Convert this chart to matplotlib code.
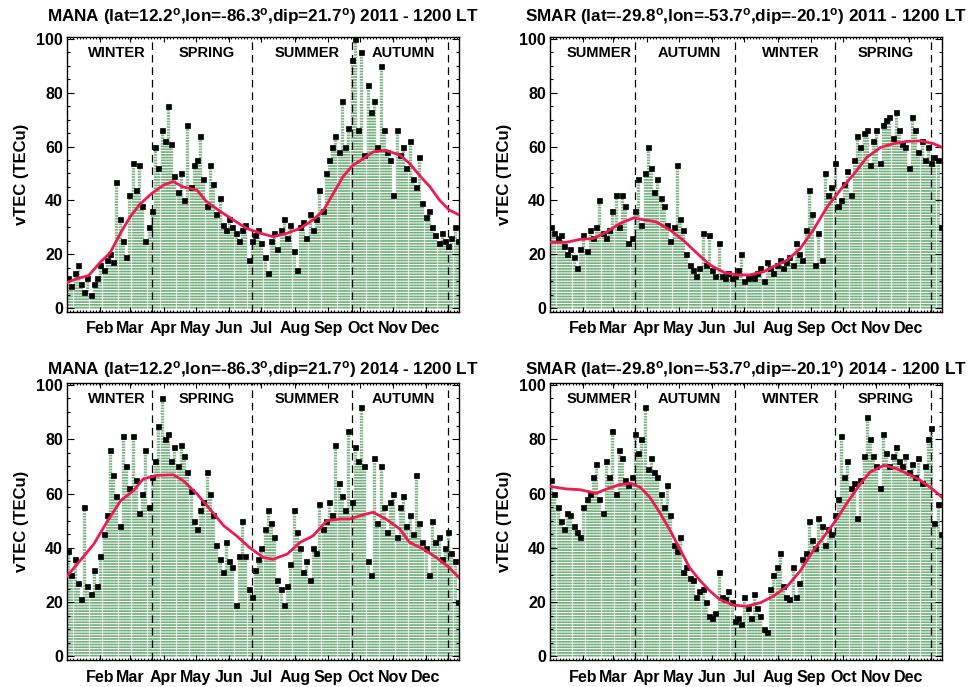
import numpy as np
import matplotlib
matplotlib.use('Agg')
import matplotlib.pyplot as plt
from matplotlib.ticker import MultipleLocator, FixedLocator

plt.rcParams['font.family'] = ['Liberation Sans', 'DejaVu Sans']
plt.rcParams['font.weight'] = 'bold'
plt.rcParams['mathtext.fontset'] = 'custom'
plt.rcParams['mathtext.rm'] = 'Liberation Sans:bold'
plt.rcParams['mathtext.bf'] = 'Liberation Sans:bold'
plt.rcParams['mathtext.it'] = 'Liberation Sans:bold'
plt.rcParams['lines.scale_dashes'] = False

# ---------------- data ----------------
month_labels = ['Feb', 'Mar', 'Apr', 'May', 'Jun', 'Jul', 'Aug', 'Sep', 'Oct', 'Nov', 'Dec']
month_start_days = [31, 59, 90, 120, 151, 181, 212, 243, 273, 304, 334]
season_boundaries = [79, 172, 265, 355]
nh_seasons = ['WINTER', 'SPRING', 'SUMMER', 'AUTUMN']
sh_seasons = ['SUMMER', 'AUTUMN', 'WINTER', 'SPRING']
season_label_days = [46, 130, 224, 313]

titles = [
    'MANA (lat=12.2$^{o}$,lon=-86.3$^{o}$,dip=21.7$^{o}$) 2011 - 1200 LT',
    'SMAR (lat=-29.8$^{o}$,lon=-53.7$^{o}$,dip=-20.1$^{o}$) 2011 - 1200 LT',
    'MANA (lat=12.2$^{o}$,lon=-86.3$^{o}$,dip=21.7$^{o}$) 2014 - 1200 LT',
    'SMAR (lat=-29.8$^{o}$,lon=-53.7$^{o}$,dip=-20.1$^{o}$) 2014 - 1200 LT',
]

# daily vTEC sampled every 3rd day (day 1, 4, 7, ...)
mana2011_vals = [11, 8, 13, 16, 9, 6, 11, 5, 9, 11,
                 16, 14, 18, 20, 17, 47, 33, 25, 19, 42,
                 54, 44, 53, 38, 25, 30, 36, 60, 52, 66,
                 62, 75, 61, 49, 43, 50, 40, 68, 45, 53,
                 55, 64, 48, 38, 53, 46, 35, 41, 31, 29,
                 33, 30, 28, 25, 29, 31, 18, 25, 27, 29,
                 24, 19, 13, 25, 28, 22, 29, 33, 26, 31,
                 21, 14, 30, 32, 26, 35, 29, 33, 44, 36,
                 50, 55, 60, 64, 58, 77, 60, 67, 92, 100,
                 66, 95, 57, 83, 73, 77, 60, 90, 66, 58,
                 55, 42, 66, 57, 60, 52, 62, 48, 45, 56,
                 39, 34, 36, 30, 27, 24, 28, 25, 23, 26,
                 30, 25]
smar2011_vals = [30, 28, 26, 27, 23, 20, 22, 19, 15, 22,
                 27, 21, 29, 26, 30, 40, 28, 26, 29, 36,
                 42, 30, 42, 38, 24, 26, 36, 48, 31, 50,
                 60, 52, 43, 48, 41, 38, 31, 25, 30, 53,
                 33, 29, 20, 16, 14, 12, 15, 28, 16, 27,
                 14, 12, 24, 12, 11, 13, 11, 12, 14, 20,
                 10, 11, 12, 11, 13, 15, 10, 17, 15, 13,
                 16, 18, 15, 17, 19, 16, 24, 20, 18, 29,
                 44, 35, 16, 28, 18, 50, 42, 45, 54, 38,
                 40, 46, 51, 42, 55, 64, 60, 65, 66, 53,
                 62, 66, 54, 68, 70, 71, 63, 73, 66, 61,
                 60, 52, 71, 66, 58, 62, 55, 60, 54, 56,
                 55, 30]
mana2014_vals = [39, 30, 36, 27, 21, 55, 26, 23, 32, 26,
                 37, 45, 52, 76, 67, 59, 48, 81, 70, 62,
                 81, 65, 53, 60, 76, 55, 66, 72, 85, 95,
                 80, 82, 72, 77, 70, 78, 74, 68, 61, 50,
                 47, 54, 57, 68, 60, 52, 41, 36, 31, 42,
                 35, 33, 19, 37, 50, 37, 25, 22, 32, 36,
                 40, 47, 54, 49, 44, 28, 25, 19, 26, 34,
                 54, 46, 40, 31, 35, 28, 40, 38, 56, 47,
                 50, 57, 52, 78, 64, 59, 54, 83, 57, 77,
                 72, 92, 70, 35, 30, 73, 49, 70, 55, 46,
                 57, 60, 44, 55, 59, 48, 52, 45, 67, 49,
                 42, 40, 30, 50, 42, 44, 36, 40, 46, 38,
                 35, 20]
smar2014_vals = [65, 60, 55, 50, 47, 53, 52, 48, 46, 44,
                 55, 58, 60, 66, 71, 58, 53, 72, 66, 83,
                 60, 76, 73, 65, 63, 66, 82, 75, 80, 92,
                 69, 73, 68, 66, 60, 55, 63, 52, 41, 39,
                 44, 31, 33, 29, 28, 22, 24, 25, 20, 15,
                 14, 16, 31, 22, 21, 24, 20, 13, 14, 12,
                 22, 18, 14, 23, 18, 15, 10, 9, 25, 30,
                 33, 38, 26, 22, 21, 33, 22, 27, 36, 38,
                 50, 43, 40, 51, 48, 41, 47, 45, 52, 58,
                 81, 66, 72, 62, 64, 51, 65, 74, 88, 80,
                 74, 70, 62, 82, 75, 70, 74, 77, 72, 70,
                 74, 68, 71, 66, 73, 64, 70, 80, 84, 49,
                 56, 45]

# smoothed (red) curves
mana2011_curve_days = [0, 10, 20, 31, 40, 50, 59, 68, 79, 90, 99, 108, 121, 130, 143, 155, 167, 180,
                       192, 205, 217, 229, 239, 248, 257, 266, 276, 285, 297, 310, 319, 328, 338, 347, 356, 365]
mana2011_curve_vals = [9.5, 11, 12, 17, 20.4, 28, 34, 38.6, 42.6, 45.7, 47, 45, 43.8, 39.5, 35.8, 32.7, 29.6, 27.8,
                       26.5, 27.8, 29.6, 32.7, 36.4, 42.6, 48.8, 53, 55.5, 58, 58.6, 56.8, 53.7, 49.4, 45, 40, 36.4, 34.6]
smar2011_curve_days = [0, 15, 28, 40, 53, 65, 78, 87, 99, 112, 124, 137, 149, 162, 174, 186, 199, 208,
                       221, 233, 245, 258, 270, 283, 295, 308, 320, 332, 345, 357, 365]
smar2011_curve_vals = [24.4, 24.4, 25.5, 25.8, 28.3, 31.4, 33.5, 32.8, 32, 28.9, 25.2, 20.3, 16, 13.2, 12.3, 12.3,
                       13.5, 15.4, 17.8, 22.1, 28.9, 37.5, 43.7, 49.8, 56, 59.7, 61.1, 61.9, 62.1, 61.1, 59.7]
mana2014_curve_days = [0, 12, 25, 37, 50, 62, 71, 84, 99, 108, 121, 133, 146, 158, 170, 183, 192, 205,
                       217, 229, 242, 254, 263, 276, 285, 297, 310, 319, 332, 344, 356, 365]
mana2014_curve_vals = [29.6, 35.2, 41.4, 49.4, 57.4, 61.1, 65.4, 66.7, 66.9, 64.8, 59.9, 54.3, 48.1, 44.4, 40.1,
                       36.4, 35.8, 37.7, 42, 44.4, 50, 50.6, 50.6, 52.2, 53.1, 50.6, 46.9, 42, 39.5, 36.4, 32.7, 29]
smar2014_curve_days = [0, 15, 28, 43, 53, 65, 75, 84, 93, 102, 112, 121, 130, 140, 149, 158, 171, 183,
                       196, 208, 221, 233, 245, 258, 267, 276, 289, 298, 311, 323, 336, 345, 356, 365]
smar2014_curve_vals = [62.6, 61.7, 61.4, 60.1, 61.7, 63.3, 63.8, 62.3, 58.6, 53.1, 46.3, 39.5, 32.7, 27.8, 24.1,
                       21, 18.9, 18.5, 19.8, 22.2, 25.9, 31.5, 38.9, 45.7, 50.6, 56.2, 63.6, 67.9, 70.4, 69.1,
                       66.7, 64.8, 61.7, 58.6]

panels = [
    (titles[0], mana2011_vals, mana2011_curve_days, mana2011_curve_vals, nh_seasons),
    (titles[1], smar2011_vals, smar2011_curve_days, smar2011_curve_vals, sh_seasons),
    (titles[2], mana2014_vals, mana2014_curve_days, mana2014_curve_vals, nh_seasons),
    (titles[3], smar2014_vals, smar2014_curve_days, smar2014_curve_vals, sh_seasons),
]

# ---------------- figure ----------------
W, H = 969, 687
fig = plt.figure(figsize=(W / 100, H / 100), dpi=100)

boxes = [(67, 37, 459, 311.5), (550, 37, 942, 311.5), (67, 383, 459, 660), (550, 383, 942, 660)]
title_pads = [11, 11, 6, 6]

green = '#4a9656'
red = '#ee1a50'

for k, (title, vals, cdays, cvals, seasons) in enumerate(panels):
    x0, y0, x1, y1 = boxes[k]
    ax = fig.add_axes([x0 / W, 1 - y1 / H, (x1 - x0) / W, (y1 - y0) / H])
    days = 1 + 3 * np.arange(len(vals))
    ax.vlines(days, 0, vals, colors=green, linewidth=2.4, alpha=0.72,
              linestyles=[(0, (1.25, 0.75))], zorder=1)
    for b in season_boundaries:
        ax.axvline(b, color='black', lw=0.9, ls=(0, (5.5, 3.5)), zorder=2)
    ax.plot(cdays, cvals, color=red, lw=2.0, zorder=4)
    ax.plot(days, vals, linestyle='none', marker='s', ms=3.6, mfc='black', mec='black', mew=0.5, zorder=3)
    for s, sd in zip(seasons, season_label_days):
        ax.text(sd, 94.8, s, ha='center', va='center', fontsize=10.5, fontweight='bold', zorder=5)

    ax.set_xlim(0, 365)
    ax.set_ylim(-1.3, 100.7)
    ax.xaxis.set_major_locator(FixedLocator(month_start_days))
    ax.set_xticklabels(month_labels)
    ax.xaxis.set_minor_locator(MultipleLocator(3))
    ax.yaxis.set_major_locator(FixedLocator([0, 20, 40, 60, 80, 100]))
    ax.yaxis.set_minor_locator(MultipleLocator(5))
    ax.tick_params(axis='both', which='both', direction='in', top=True, right=True, width=0.8)
    ax.tick_params(axis='x', which='major', length=3.5, pad=7, labelsize=11.5)
    ax.tick_params(axis='x', which='minor', length=1.6)
    ax.tick_params(axis='y', which='major', length=5, pad=3, labelsize=11.5)
    ax.tick_params(axis='y', which='minor', length=2.5)
    for lab in ax.get_xticklabels() + ax.get_yticklabels():
        lab.set_fontweight('bold')
    for sp in ax.spines.values():
        sp.set_linewidth(1.0)
    ax.set_ylabel('vTEC (TECu)', fontsize=12, fontweight='bold', labelpad=5)
    ax.set_title(title, fontsize=12.3, fontweight='bold', pad=title_pads[k])

fig.savefig('out.png', dpi=100)
